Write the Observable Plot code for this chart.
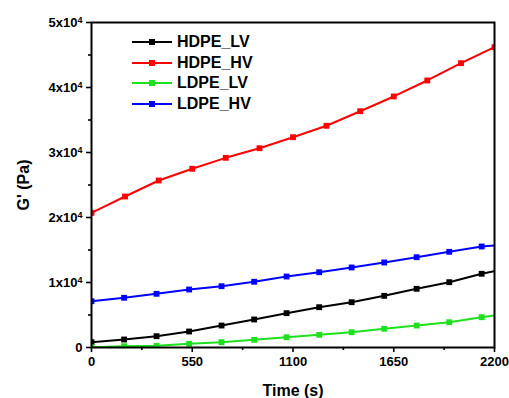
<!DOCTYPE html>
<html>
<head>
<meta charset="utf-8">
<script src="https://cdn.jsdelivr.net/npm/d3@7"></script>
<script src="https://cdn.jsdelivr.net/npm/@observablehq/plot@0.6"></script>
<style>
  html, body { margin: 0; padding: 0; background: #fff; }
  #wrap { position: relative; width: 509px; height: 398px; font-family: "Liberation Sans", Arial, sans-serif; }
  #wrap svg { font-family: "Liberation Sans", Arial, sans-serif; font-weight: bold; }
  #wrap g[aria-label="x-axis label"] text, #wrap g[aria-label="y-axis label"] text { font-size: 16px; }
  #legend { position: absolute; left: 131px; top: 32px; font-weight: bold; font-size: 16px; }
  .row { display: flex; align-items: center; height: 20.5px; }
  .row svg { margin-right: 4px; }
</style>
</head>
<body>
<div id="wrap"><div id="legend"></div></div>
<script>
// Series names and colours
const seriesNames = ["HDPE_LV", "HDPE_HV", "LDPE_LV", "LDPE_HV"];
const seriesColors = ["#000000", "#ff0000", "#1ee11e", "#0000ff"];

// Time points (s)
const timeHV = [0, 183, 367, 550, 733, 917, 1100, 1283, 1467, 1650, 1833, 2017, 2200];
const timeOther = [0, 178, 355, 533, 710, 888, 1065, 1243, 1420, 1598, 1775, 1953, 2130, 2200];

// G' values (Pa)
const hdpeLV = [815, 1230, 1740, 2460, 3380, 4310, 5280, 6200, 6970, 7950, 9030, 10050, 11340, 11740];
const hdpeHV = [20720, 23230, 25690, 27490, 29180, 30660, 32350, 34110, 36350, 38620, 41080, 43740, 46200];
const ldpeLV = [50, 200, 260, 570, 820, 1180, 1580, 1950, 2350, 2880, 3380, 3890, 4660, 4920];
const ldpeHV = [7120, 7650, 8260, 8920, 9430, 10110, 10920, 11580, 12310, 13080, 13890, 14720, 15540, 15690];
// number of measured markers per series (the last entry of a 14-long series is where the line leaves the frame)
const markerCount = [13, 13, 13, 13];

// Ticks
const xTicks = [0, 550, 1100, 1650, 2200];
const xTickLabels = ["0", "550", "1100", "1650", "2200"];
const xMinor = [275, 825, 1375, 1925];
const yTicks = [0, 10000, 20000, 30000, 40000, 50000];
const yTickMantissa = ["0", "1", "2", "3", "4", "5"];
const yTickExponent = "4";
const yMinor = [5000, 15000, 25000, 35000, 45000];

const seriesValues = [hdpeLV, hdpeHV, ldpeLV, ldpeHV];
const seriesTimes = [timeOther, timeHV, timeOther, timeOther];

const data = [];
const markers = [];
seriesNames.forEach((name, i) => {
  seriesValues[i].forEach((v, j) => {
    const d = {series: name, t: seriesTimes[i][j], g: v};
    data.push(d);
    if (j < markerCount[i]) markers.push(d);
  });
});

const color = {domain: seriesNames, range: seriesColors};

const chart = Plot.plot({
  width: 509,
  height: 398,
  marginLeft: 91,
  marginRight: 15,
  marginTop: 22,
  marginBottom: 51,
  style: {background: "#fff", color: "#000", fontSize: "13px"},
  color,
  x: {domain: [0, 2200]},
  y: {domain: [0, 50000]},
  marks: [
    Plot.line(data, {x: "t", y: "g", z: "series", stroke: "series", strokeWidth: 2, clip: true}),
    Plot.dot(markers, {x: "t", y: "g", fill: "series", symbol: "square", r: 3.3, clip: true}),
    Plot.axisX({ticks: xTicks, tickSize: 5, tickPadding: 4, strokeWidth: 1.6, fontSize: 13, fontWeight: "bold",
      tickFormat: (d) => xTickLabels[xTicks.indexOf(d)],
      label: "Time (s)", labelAnchor: "center", labelArrow: "none", labelOffset: 48}),
    Plot.axisX({ticks: xMinor, tickSize: 3, strokeWidth: 1.6, tickFormat: () => "", label: null}),
    Plot.axisY({ticks: yTicks, tickSize: 5, tickPadding: 4, strokeWidth: 1.6, fontSize: 13, fontWeight: "bold",
      tickFormat: (d) => { const m = yTickMantissa[yTicks.indexOf(d)]; return d === 0 ? m : m + "x10^" + yTickExponent; },
      label: "G' (Pa)", labelAnchor: "center", labelArrow: "none", labelOffset: 74}),
    Plot.axisY({ticks: yMinor, tickSize: 3, strokeWidth: 1.6, tickFormat: () => "", label: null}),
    Plot.frame({stroke: "#000", strokeWidth: 2})
  ]
});

// Render the exponent as a real superscript
d3.select(chart).selectAll('g[aria-label="y-axis tick label"] text').each(function () {
  const t = d3.select(this);
  const s = t.text();
  if (s.includes("^")) {
    const [base, exp] = s.split("^");
    t.text(null);
    t.append("tspan").text(base);
    t.append("tspan").attr("dy", "-0.45em").attr("font-size", "9px").text(exp);
  }
});

document.getElementById("wrap").appendChild(chart);

// Legend
const legend = document.getElementById("legend");
seriesNames.forEach((name, i) => {
  const row = document.createElement("div");
  row.className = "row";
  row.innerHTML = `<svg width="42" height="10"><line x1="1" x2="41" y1="5" y2="5" stroke="${seriesColors[i]}" stroke-width="2"/><rect x="18" y="2" width="6" height="6" fill="${seriesColors[i]}"/></svg><span>${name}</span>`;
  legend.appendChild(row);
});
</script>
</body>
</html>
